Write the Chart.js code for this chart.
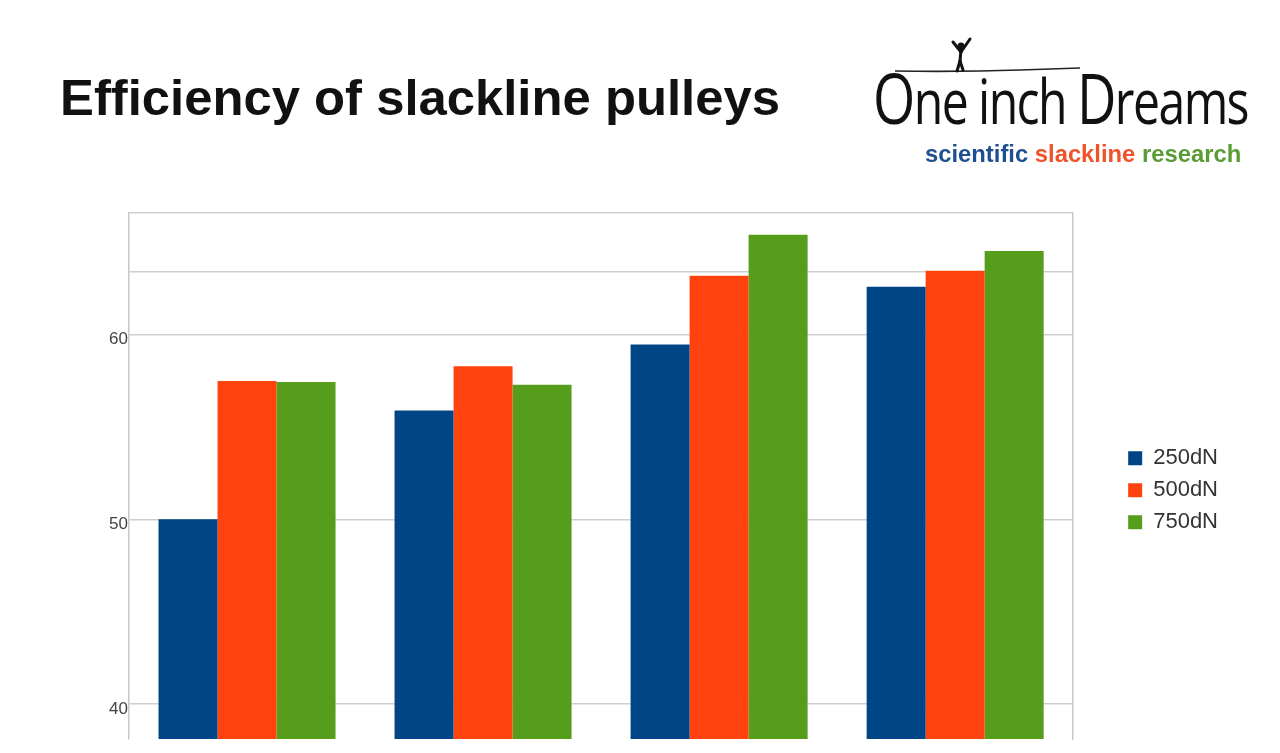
<!DOCTYPE html>
<html>
<head>
<meta charset="utf-8">
<script src="https://cdn.jsdelivr.net/npm/chart.js@4.4.0/dist/chart.umd.min.js"></script>
<style>
html,body{margin:0;padding:0;background:#fff;width:1280px;height:753px;overflow:hidden;}
#chartBox{position:absolute;left:0;top:0;width:1280px;height:753px;}
#title{position:absolute;left:60px;top:73px;font:bold 50.8px "Liberation Sans",Arial,sans-serif;line-height:1;color:#111;white-space:nowrap;}
#logo{position:absolute;left:873px;top:62px;font:400 62px "Open Sans","Noto Sans",sans-serif;line-height:1;color:#111;white-space:nowrap;letter-spacing:-2px;transform-origin:0 0;}
#logo .big{font-size:70px;}
#tag{position:absolute;left:925px;top:142px;font:bold 23.8px "Liberation Sans",Arial,sans-serif;line-height:1;white-space:nowrap;}
#rope{position:absolute;left:860px;top:30px;}
</style>
</head>
<body>
<div id="chartBox"><canvas id="c" width="1280" height="753"></canvas></div>
<div id="title">Efficiency of slackline pulleys</div>
<svg id="rope" width="400" height="60" viewBox="0 0 400 60">
  <path d="M35 41 Q100 42 160 40 T220 38" fill="none" stroke="#222" stroke-width="1.6"/>
  <g stroke="#111" stroke-width="3" stroke-linecap="round" fill="none">
    <line x1="101" y1="20" x2="100" y2="31"/>
    <line x1="101" y1="22" x2="93" y2="12"/>
    <line x1="101" y1="22" x2="110" y2="9"/>
    <line x1="100" y1="31" x2="97" y2="41"/>
    <line x1="100" y1="31" x2="103" y2="40"/>
  </g>
  <circle cx="101" cy="16" r="3.5" fill="#111"/>
</svg>
<div id="logo"><span class="big">O</span>ne inch <span class="big">D</span>reams</div>
<div id="tag"><span style="color:#1d4f91">scientific</span> <span style="color:#f0522a">slackline</span> <span style="color:#5b9b35">research</span></div>
<script>
const categories = ['Pulley 1', 'Pulley 2', 'Pulley 3', 'Pulley 4'];
const seriesNames = ['250dN', '500dN', '750dN'];
const values250 = [50.0, 55.9, 59.48, 62.6];
const values500 = [57.5, 58.3, 63.2, 63.47];
const values750 = [57.44, 57.3, 65.42, 64.54];
const seriesColors = ['#004586', '#ff420e', '#579d1c'];
const yTickValues = [40, 50, 60, 63.4, 66.6];
const yTickLabels = ['40', '50', '60', '', ''];

// fit logo width
const logo = document.getElementById('logo');
const lw = logo.getBoundingClientRect().width;
logo.style.transform = 'scaleX(' + (375 / lw) + ')';

const seriesValues = [values250, values500, values750];
const datasets = seriesNames.map((n, i) => ({
  label: n,
  data: seriesValues[i],
  backgroundColor: seriesColors[i],
  borderWidth: 0,
  categoryPercentage: 0.75,
  barPercentage: 1.0,
  yAxisID: 'y'
}));

new Chart(document.getElementById('c'), {
  type: 'bar',
  data: { labels: categories, datasets: datasets },
  options: {
    responsive: false,
    animation: false,
    layout: { padding: { top: 213, bottom: 14, left: 0, right: 52 } },
    plugins: {
      title: { display: false },
      tooltip: { enabled: false },
      legend: {
        position: 'right',
        align: 'center',
        title: { display: true, text: '', font: { size: 12 }, padding: 7 },
        labels: {
          boxWidth: 14, boxHeight: 14, padding: 10,
          color: '#333',
          font: { family: '"Liberation Sans", Arial, sans-serif', size: 22 }
        }
      }
    },
    scales: {
      x: {
        display: false
      },
      y: {
        position: 'left',
        min: 38.1, max: 66.6,
        afterBuildTicks: (s) => { s.ticks = yTickValues.map(v => ({ value: v })); },
        afterFit: (s) => { s.width = 129; },
        ticks: {
          padding: 1,
          labelOffset: 5,
          color: '#444',
          font: { family: '"Liberation Sans", Arial, sans-serif', size: 17 },
          callback: (v, i) => yTickLabels[i]
        },
        grid: { color: '#cfcfcf', lineWidth: 1.5, drawTicks: false },
        border: { display: true, color: '#c8c8c8', width: 1.5 }
      },
      y2: {
        type: 'linear',
        position: 'right',
        min: 38.1, max: 66.6,
        afterFit: (s) => { s.width = 45; },
        ticks: { display: false },
        grid: { display: false, drawTicks: false },
        border: { display: true, color: '#c8c8c8', width: 1.5 }
      }
    }
  }
});
</script>
</body>
</html>
